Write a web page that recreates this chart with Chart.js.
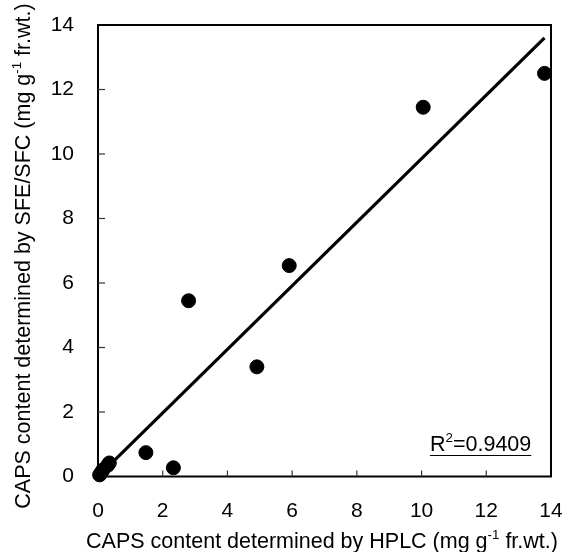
<!DOCTYPE html>
<html>
<head>
<meta charset="utf-8">
<script src="https://cdn.jsdelivr.net/npm/chart.js@4.4.0/dist/chart.umd.min.js"></script>
<style>
  html, body { margin: 0; padding: 0; background: #fff; }
  #wrap { width: 568px; height: 552px; }
</style>
</head>
<body>
<div id="wrap"><canvas id="chart" width="568" height="552"></canvas></div>
<script>
// measured points (HPLC vs SFE/SFC)
const hplcValues = [0.05, 0.1, 0.15, 0.3, 0.35, 1.48, 2.33, 2.8, 4.91, 5.91, 10.05, 13.8];
const sfeValues = [0.05, 0.12, 0.2, 0.35, 0.42, 0.74, 0.27, 5.45, 3.4, 6.54, 11.45, 12.5];
// regression line end points
const fitX = [0.2, 13.8];
const fitY = [0.2, 13.6];
const tickValues = [0, 2, 4, 6, 8, 10, 12, 14];
const rSquared = "0.9409";

const FONT = "'Liberation Sans', Arial, sans-serif";

// draw text where some parts are superscripts
function drawRich(ctx, parts, size, x, y, align) {
  let total = 0;
  parts.forEach(p => {
    ctx.font = (p[1] ? size * 0.62 : size) + "px " + FONT;
    total += ctx.measureText(p[0]).width;
  });
  let cx = align === "center" ? x - total / 2 : x;
  parts.forEach(p => {
    ctx.font = (p[1] ? size * 0.62 : size) + "px " + FONT;
    ctx.fillText(p[0], cx, p[1] ? y - size * 0.42 : y);
    cx += ctx.measureText(p[0]).width;
  });
  return total;
}

const framePlugin = {
  id: "frame",
  afterDraw(chart) {
    const ctx = chart.ctx;
    const a = chart.chartArea;
    const xs = chart.scales.x, ys = chart.scales.y;
    ctx.save();
    ctx.strokeStyle = "#000";
    ctx.lineWidth = 2;
    ctx.strokeRect(a.left, a.top, a.right - a.left, a.bottom - a.top);

    // inward tick marks
    ctx.lineWidth = 1.2;
    ctx.strokeStyle = "#333";
    tickValues.slice(1, -1).forEach(v => {
      const px = xs.getPixelForValue(v);
      ctx.beginPath(); ctx.moveTo(px, a.bottom); ctx.lineTo(px, a.bottom - 6); ctx.stroke();
      const py = ys.getPixelForValue(v);
      ctx.beginPath(); ctx.moveTo(a.left, py); ctx.lineTo(a.left + 7, py); ctx.stroke();
    });

    ctx.fillStyle = "#000";
    ctx.textBaseline = "alphabetic";

    // x axis title
    drawRich(ctx, [["CAPS content determined by HPLC (mg g", 0], ["-1", 1], [" fr.wt.)", 0]],
      21.5, 322, 548, "center");

    // y axis title (rotated)
    ctx.save();
    ctx.translate(30, 256);
    ctx.rotate(-Math.PI / 2);
    drawRich(ctx, [["CAPS content determined by SFE/SFC (mg g", 0], ["-1", 1], [" fr.wt.)", 0]],
      21.5, 0, 0, "center");
    ctx.restore();

    // R squared label with underline
    const w = drawRich(ctx, [["R", 0], ["2", 1], ["=" + rSquared, 0]], 21.5, 430, 451, "left");
    ctx.lineWidth = 1.2;
    ctx.strokeStyle = "#000";
    ctx.beginPath(); ctx.moveTo(430, 455.5); ctx.lineTo(430 + w, 455.5); ctx.stroke();
    ctx.restore();
  }
};

const scaleOpts = {
  type: "linear",
  min: 0,
  max: 14,
  grid: { display: false, drawTicks: false },
  border: { display: false },
  ticks: {
    stepSize: 2,
    color: "#000",
    font: { family: FONT, size: 21 }
  }
};

new Chart(document.getElementById("chart"), {
  type: "scatter",
  data: {
    datasets: [
      {
        data: hplcValues.map((x, i) => ({ x: x, y: sfeValues[i] })),
        backgroundColor: "#000",
        borderColor: "#000",
        pointRadius: 7,
        clip: false
      },
      {
        data: fitX.map((x, i) => ({ x: x, y: fitY[i] })),
        showLine: true,
        borderColor: "#000",
        borderWidth: 3.2,
        pointRadius: 0,
        clip: false
      }
    ]
  },
  options: {
    responsive: false,
    animation: false,
    devicePixelRatio: 1,
    layout: { autoPadding: false, padding: { top: 25, right: 17, left: 0, bottom: 0 } },
    plugins: { legend: { display: false }, tooltip: { enabled: false } },
    scales: {
      x: Object.assign({}, scaleOpts, {
        ticks: Object.assign({}, scaleOpts.ticks, { padding: 22 }),
        afterFit(s) { s.height = 75.5; s.paddingRight = 0; s.paddingLeft = 0; }
      }),
      y: Object.assign({}, scaleOpts, {
        ticks: Object.assign({}, scaleOpts.ticks, { padding: 24 }),
        afterFit(s) { s.width = 98; s.paddingTop = 0; s.paddingBottom = 0; }
      })
    }
  },
  plugins: [framePlugin]
});
</script>
</body>
</html>
